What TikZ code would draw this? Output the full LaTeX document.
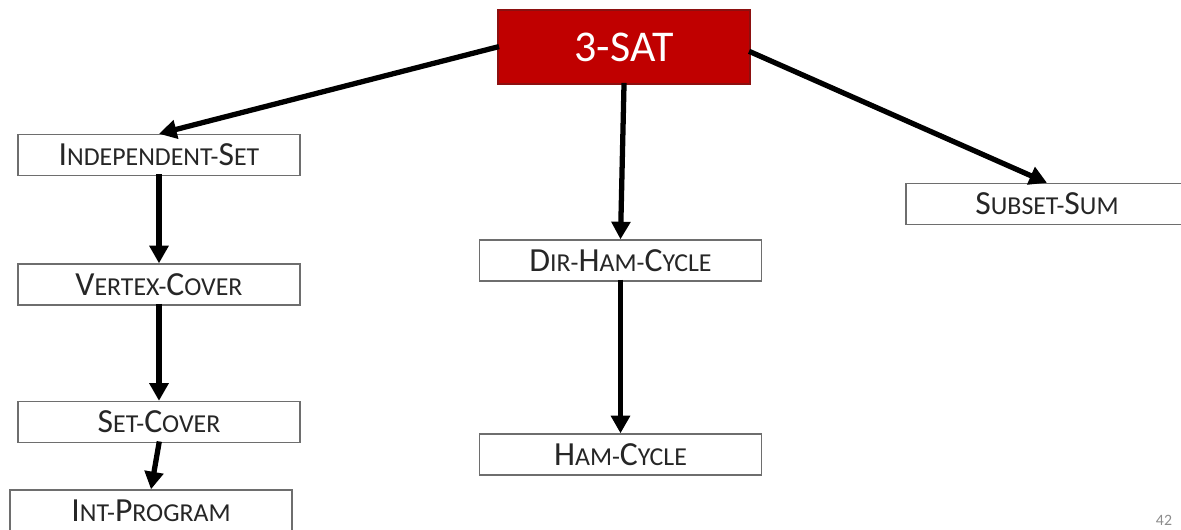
\documentclass[tikz,border=0pt]{standalone}
\usepackage{fontspec}
\setmainfont{Carlito}
\usetikzlibrary{arrows.meta}

\definecolor{satred}{HTML}{C00000}
\definecolor{satborder}{HTML}{8C1010}
\definecolor{boxborder}{HTML}{6E6E6E}

% fake small caps: big first letter, small rest
\newcommand{\scword}[2]{{\fontsize{19.2}{22}\selectfont #1}{\fontsize{14.7}{17}\selectfont #2}}

\tikzset{
    problem/.style={draw=boxborder, line width=0.8pt, fill=white, inner sep=0pt,
        minimum width=5.64cm, minimum height=0.82cm, text=black!85},
    reduce/.style={line width=3pt, -{Triangle[length=10pt,width=10.5pt]}, shorten <=-1pt}
}

\begin{document}
\begin{tikzpicture}[x=0.02cm, y=-0.02cm]
    \useasboundingbox (0,0) rectangle (1181,529);
    \clip (0,0) rectangle (1181,529);

    % source problem
    \node[draw=satborder, line width=0.8pt, fill=satred, text=white, inner sep=0pt,
        minimum width=5.04cm, minimum height=1.48cm] (sat) at (624,47)
        {\fontsize{25}{30}\selectfont 3-SAT};

    % left chain
    \node[problem] (indep) at (159,155) {\scword{I}{NDEPENDENT}\scword{}{-}\scword{S}{ET}};
    \node[problem] (vertex) at (159,284.5) {\scword{V}{ERTEX}\scword{}{-}\scword{C}{OVER}};
    \node[problem] (setcov) at (159,422) {\scword{S}{ET}\scword{}{-}\scword{C}{OVER}};
    \node[problem, minimum height=0.84cm] (intprog) at (151,511)
        {\scword{I}{NT}\scword{}{-}\scword{P}{ROGRAM}};

    % middle chain
    \node[problem] (dirham) at (620.5,260.5) {\scword{D}{IR}\scword{}{-}\scword{H}{AM}\scword{}{-}\scword{C}{YCLE}};
    \node[problem] (ham) at (620.5,454.5) {\scword{H}{AM}\scword{}{-}\scword{C}{YCLE}};

    % right
    \node[problem] (subset) at (1047,204) {\scword{S}{UBSET}\scword{}{-}\scword{S}{UM}};

    % reductions
    \draw[reduce] (sat.west) -- (indep.north);
    \draw[reduce] (sat.south) -- (dirham.north);
    \draw[reduce] ([yshift=-0.1cm]sat.east) -- (subset.north);
    \draw[reduce] (indep.south) -- (vertex.north);
    \draw[reduce] (vertex.south) -- (setcov.north);
    \draw[reduce] (setcov.south) -- (intprog.north);
    \draw[reduce] (dirham.south) -- (ham.north);

    % slide number
    \node[text=black!45, font=\fontsize{9}{10}\selectfont] (slidenum) at (1164,520) {42};
\end{tikzpicture}
\end{document}
